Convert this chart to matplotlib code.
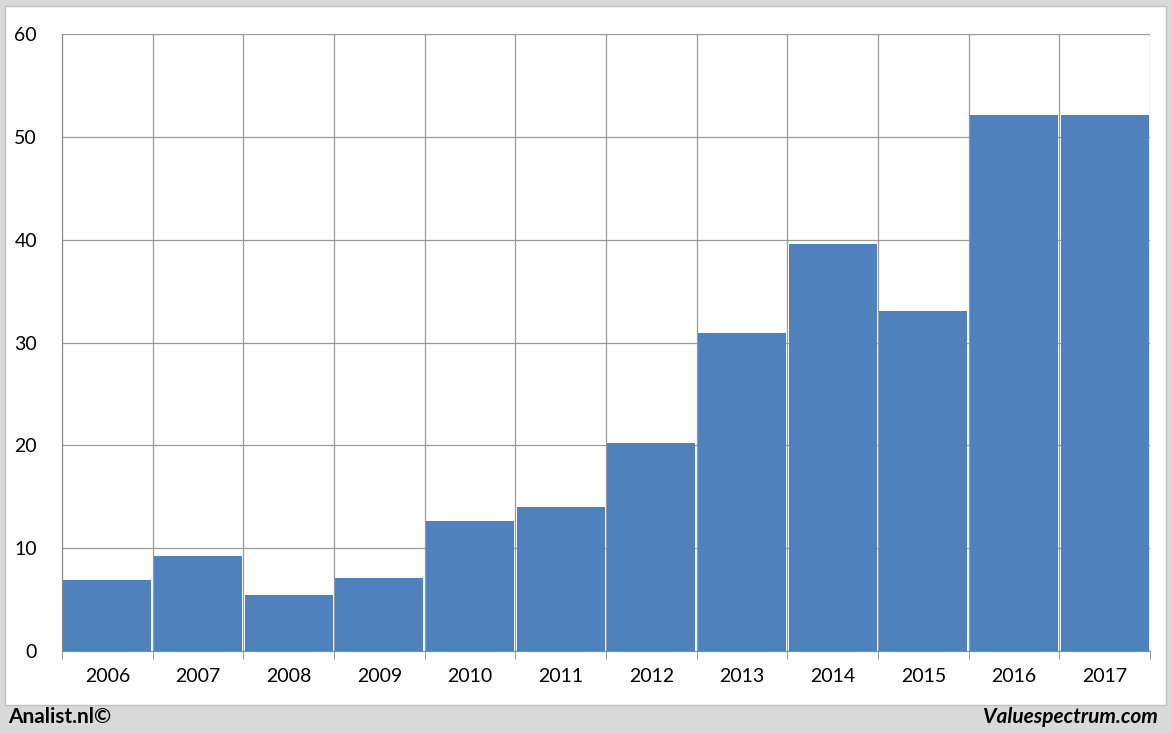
import matplotlib
matplotlib.use("Agg")
import matplotlib.pyplot as plt
from matplotlib.patches import Rectangle

years = ["2006","2007","2008","2009","2010","2011","2012","2013","2014","2015","2016","2017"]
values = [6.9, 9.2, 5.4, 7.1, 12.6, 14.0, 20.2, 30.9, 39.6, 33.1, 52.1, 52.1]
yticks = [0, 10, 20, 30, 40, 50, 60]

plt.rcParams['font.family'] = ['Lato', 'DejaVu Sans']
W, H = 1172, 734
fig = plt.figure(figsize=(W/100, H/100), dpi=100)
fig.patch.set_facecolor('#d9d9d9')
fig.patches.append(Rectangle((5/W, 29/H), (W-11)/W, (H-35)/H, transform=fig.transFigure,
                             facecolor='white', edgecolor='#bfbfbf', lw=1, zorder=-10))

ax = fig.add_axes([62/W, 1-651/H, (1150-62)/W, (651-34)/H])
ax.set_zorder(5)
ax.set_facecolor('white')
x = list(range(len(years)))
ax.bar(x, values, width=0.97, color='#4f81bd', edgecolor='none', zorder=3)
ax.set_xlim(-0.5, len(years)-0.5)
ax.set_ylim(0, 60)
ax.set_yticks(yticks)
ax.set_yticklabels([str(t) for t in yticks], fontsize=14)
ax.set_xticks(x)
ax.set_xticklabels(years, fontsize=14)
ax.tick_params(axis='x', length=0, pad=12)
ax.tick_params(axis='y', length=0, pad=18)
ax.set_xticks([i-0.5 for i in range(len(years)+1)], minor=True)
ax.tick_params(axis='x', which='minor', length=6, color='#888888')
ax.grid(axis='y', color='#999999', lw=0.9, zorder=0)
ax.grid(axis='x', which='minor', color='#999999', lw=0.9, zorder=0)
ax.grid(axis='x', which='major', visible=False)
for s in ['top', 'right']:
    ax.spines[s].set_visible(False)
ax.spines['left'].set_color('#888888')
ax.spines['bottom'].set_color('#888888')

fig.text(8/W, 1-717/H, "Analist.nl©", fontsize=15, fontweight='bold', va='center', ha='left')
fig.text(1158/W, 1-717/H, "Valuespectrum.com", fontsize=15, fontweight='bold', style='italic', va='center', ha='right')
fig.savefig("out.png", dpi=100, facecolor=fig.get_facecolor())
